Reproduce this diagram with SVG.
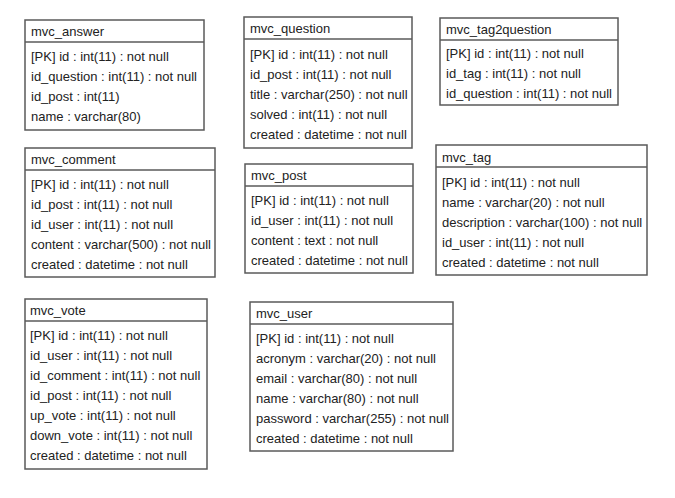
<svg xmlns="http://www.w3.org/2000/svg" width="675" height="498" viewBox="0 0 675 498">
<style>
.box{fill:#fff;stroke:#5a5a5a;stroke-width:1.5}
.sep{stroke:#5a5a5a;stroke-width:1.5}
text{font-family:"Liberation Sans",Arial,sans-serif;font-size:13px;fill:#222}
</style>
<rect width="675" height="498" fill="#fff"/>
<g id="connectors"></g>
<g id="mvc_answer">
<rect class="box" x="25" y="20" width="179" height="110"/>
<line class="sep" x1="25" y1="42" x2="204" y2="42"/>
<text x="31" y="36">mvc_answer</text>
<text x="31" y="61">[PK] id : int(11) : not null</text>
<text x="31" y="81">id_question : int(11) : not null</text>
<text x="31" y="101">id_post : int(11)</text>
<text x="31" y="121">name : varchar(80)</text>
</g>
<g id="mvc_question">
<rect class="box" x="244" y="17" width="168" height="131"/>
<line class="sep" x1="244" y1="39" x2="412" y2="39"/>
<text x="250" y="33">mvc_question</text>
<text x="250" y="59">[PK] id : int(11) : not null</text>
<text x="250" y="79">id_post : int(11) : not null</text>
<text x="250" y="99">title : varchar(250) : not null</text>
<text x="250" y="119">solved : int(11) : not null</text>
<text x="250" y="139">created : datetime : not null</text>
</g>
<g id="mvc_tag2question">
<rect class="box" x="440" y="18" width="178" height="87"/>
<line class="sep" x1="440" y1="40" x2="618" y2="40"/>
<text x="446" y="34">mvc_tag2question</text>
<text x="446" y="58">[PK] id : int(11) : not null</text>
<text x="446" y="78">id_tag : int(11) : not null</text>
<text x="446" y="98">id_question : int(11) : not null</text>
</g>
<g id="mvc_comment">
<rect class="box" x="25" y="148" width="190" height="129"/>
<line class="sep" x1="25" y1="170" x2="215" y2="170"/>
<text x="31" y="164">mvc_comment</text>
<text x="31" y="189">[PK] id : int(11) : not null</text>
<text x="31" y="209">id_post : int(11) : not null</text>
<text x="31" y="229">id_user : int(11) : not null</text>
<text x="31" y="249">content : varchar(500) : not null</text>
<text x="31" y="269">created : datetime : not null</text>
</g>
<g id="mvc_post">
<rect class="box" x="245" y="164" width="168" height="109"/>
<line class="sep" x1="245" y1="186" x2="413" y2="186"/>
<text x="251" y="180">mvc_post</text>
<text x="251" y="205">[PK] id : int(11) : not null</text>
<text x="251" y="225">id_user : int(11) : not null</text>
<text x="251" y="245">content : text : not null</text>
<text x="251" y="265">created : datetime : not null</text>
</g>
<g id="mvc_tag">
<rect class="box" x="436" y="145" width="211" height="130"/>
<line class="sep" x1="436" y1="167" x2="647" y2="167"/>
<text x="442" y="162">mvc_tag</text>
<text x="442" y="187">[PK] id : int(11) : not null</text>
<text x="442" y="207">name : varchar(20) : not null</text>
<text x="442" y="227">description : varchar(100) : not null</text>
<text x="442" y="247">id_user : int(11) : not null</text>
<text x="442" y="267">created : datetime : not null</text>
</g>
<g id="mvc_vote">
<rect class="box" x="25" y="299" width="182" height="170"/>
<line class="sep" x1="25" y1="321" x2="207" y2="321"/>
<text x="30" y="315">mvc_vote</text>
<text x="30" y="340">[PK] id : int(11) : not null</text>
<text x="30" y="360">id_user : int(11) : not null</text>
<text x="30" y="380">id_comment : int(11) : not null</text>
<text x="30" y="400">id_post : int(11) : not null</text>
<text x="30" y="420">up_vote : int(11) : not null</text>
<text x="30" y="440">down_vote : int(11) : not null</text>
<text x="30" y="460">created : datetime : not null</text>
</g>
<g id="mvc_user">
<rect class="box" x="250" y="302" width="203" height="149"/>
<line class="sep" x1="250" y1="324" x2="453" y2="324"/>
<text x="256" y="318">mvc_user</text>
<text x="256" y="343">[PK] id : int(11) : not null</text>
<text x="256" y="363">acronym : varchar(20) : not null</text>
<text x="256" y="383">email : varchar(80) : not null</text>
<text x="256" y="403">name : varchar(80) : not null</text>
<text x="256" y="423">password : varchar(255) : not null</text>
<text x="256" y="443">created : datetime : not null</text>
</g>
</svg>
